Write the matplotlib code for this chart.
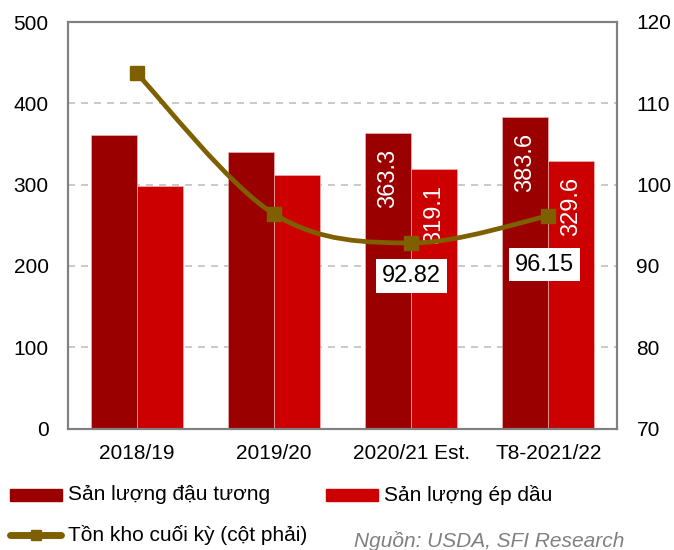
import matplotlib
matplotlib.use('Agg')
from matplotlib import pyplot as plt
from matplotlib.path import Path
from matplotlib.lines import Line2D
import matplotlib.patches as patches
import numpy as np

plt.rcParams['font.family'] = ['Liberation Sans', 'DejaVu Sans']

categories = ['2018/19', '2019/20', '2020/21 Est.', 'T8-2021/22']
soybean = [361.0, 339.5, 363.3, 383.6]
crush = [298.5, 312.0, 319.1, 329.6]
stocks = [113.7, 96.4, 92.82, 96.15]

dark_red = '#9A0000'
red = '#CC0000'
olive = '#7F6000'

W, H = 674, 550
fig = plt.figure(figsize=(W / 100, H / 100), dpi=100)


def fx(px):
    return px / W


def fy(py):
    return 1 - py / H


ax = fig.add_axes([fx(68), fy(428.5), (617 - 68) / W, (428.5 - 22) / H])
ax2 = ax.twinx()

x = np.arange(len(categories))
w = 0.335
ax.bar(x - w / 2, soybean, w, color=dark_red, edgecolor='#f0c0c0', linewidth=0.4, zorder=2)
ax.bar(x + w / 2, crush, w, color=red, edgecolor='#f0c0c0', linewidth=0.4, zorder=2)

ax.set_xlim(-0.5, 3.5)
ax.set_ylim(0, 500)
ax.set_yticks([0, 100, 200, 300, 400, 500])
ax.set_xticks(x)
ax.set_xticklabels(categories)
ax.yaxis.grid(True, linestyle=(0, (4.2, 3.6)), color='#c0c0c0', linewidth=1.2, zorder=0)
ax.set_axisbelow(True)
ax.tick_params(axis='y', length=0, labelsize=15, pad=14)
ax.tick_params(axis='x', length=0, labelsize=15, pad=11)

ax2.set_ylim(70, 120)
ax2.set_yticks([70, 80, 90, 100, 110, 120])
ax2.tick_params(axis='y', length=0, labelsize=15, pad=14)
for a in (ax, ax2):
    for s in a.spines.values():
        s.set_color('#808080')
        s.set_linewidth(1.5)

# bar value labels (only last two groups)
for i in (2, 3):
    ax.annotate(f'{soybean[i]:.1f}', (x[i] - w / 2, soybean[i]), xytext=(0, -11.5),
                textcoords='offset points', rotation=90, ha='center', va='top',
                color='white', fontsize=17, zorder=3)
    ax.annotate(f'{crush[i]:.1f}', (x[i] + w / 2, crush[i]), xytext=(0, -11.5),
                textcoords='offset points', rotation=90, ha='center', va='top',
                color='white', fontsize=17, zorder=3)

# smoothed line through the stock points (Excel-style smoothing)
pts = np.column_stack([x, stocks]).astype(float)
verts = [tuple(pts[0])]
codes = [Path.MOVETO]
n = len(pts)
for i in range(n - 1):
    p0 = pts[i - 1] if i > 0 else pts[i]
    p1 = pts[i]
    p2 = pts[i + 1]
    p3 = pts[i + 2] if i + 2 < n else pts[i + 1]
    c1 = p1 + (p2 - p0) / 6
    c2 = p2 - (p3 - p1) / 6
    verts += [tuple(c1), tuple(c2), tuple(p2)]
    codes += [Path.CURVE4] * 3
ax2.add_patch(patches.PathPatch(Path(verts, codes), facecolor='none',
                                edgecolor=olive, linewidth=3.4, zorder=4))
ax2.plot(x, stocks, linestyle='none', marker='s', markersize=10, color=olive, zorder=5)

label_offsets = {2: (0, -24), 3: (-3, -35)}
for i, off in label_offsets.items():
    ax2.annotate(f'{stocks[i]:.2f}', (x[i], stocks[i]), xytext=off,
                 textcoords='offset points', ha='center', va='center', fontsize=17,
                 color='black', zorder=6,
                 bbox=dict(boxstyle='square,pad=0.25', facecolor='white', edgecolor='none'))

# legend drawn in figure pixels
fig.patches.append(patches.Rectangle((fx(10), fy(501)), fx(52), 12 / H,
                                     color=dark_red, transform=fig.transFigure))
fig.patches.append(patches.Rectangle((fx(326), fy(501)), fx(52), 12 / H,
                                     color=red, transform=fig.transFigure))
fig.lines.append(Line2D([fx(10), fx(61)], [fy(535), fy(535)], color=olive, linewidth=5,
                        solid_capstyle='round', transform=fig.transFigure))
fig.lines.append(Line2D([fx(35.5)], [fy(535)], color=olive, marker='s', markersize=7.5,
                        transform=fig.transFigure))
fig.text(fx(68), fy(495), 'Sản lượng đậu tương', ha='left', va='center', fontsize=15)
fig.text(fx(384), fy(495), 'Sản lượng ép dầu', ha='left', va='center', fontsize=15)
fig.text(fx(68), fy(535), 'Tồn kho cuối kỳ (cột phải)', ha='left', va='center', fontsize=15)

fig.text(fx(624), fy(541), 'Nguồn: USDA, SFI Research', ha='right', va='center',
         style='italic', color='#808080', fontsize=15)

fig.savefig('out.png', dpi=100)
